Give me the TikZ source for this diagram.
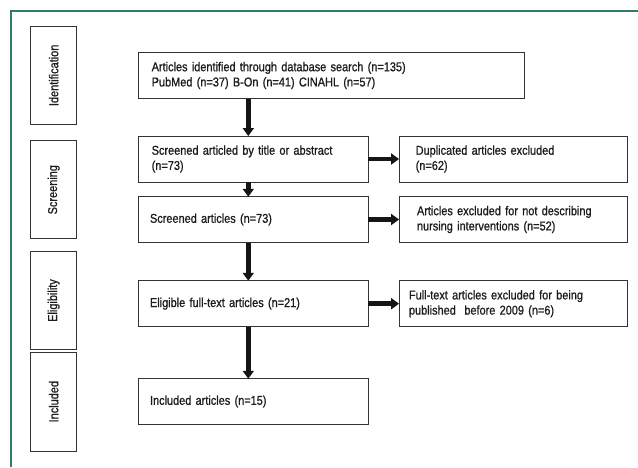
\documentclass[tikz,border=0pt]{standalone}
\usepackage{fontspec}
\setmainfont{Liberation Sans}[FakeStretch=0.855,FakeBold=0.9]
\usetikzlibrary{arrows.meta}
\definecolor{frameteal}{HTML}{2E7B68}
\definecolor{boxline}{HTML}{333333}
\definecolor{txt}{HTML}{1C1C1C}
\definecolor{arr}{HTML}{151515}
\tikzset{
  mainbox/.style={draw=boxline, line width=0.9pt, rectangle, align=left,
    font=\fontsize{12.8}{15.2}\selectfont, text=txt, inner ysep=0pt},
  stagebox/.style={draw=boxline, line width=0.9pt, rectangle, rotate=90,
    minimum height=46pt, font=\fontsize{12.8}{14}\selectfont, text=txt, inner sep=0pt},
  bigarrow/.style={draw=arr, fill=arr, line width=4.8pt,
    -{Triangle[length=8pt,width=11pt]}, shorten >=-0.5pt},
  frameline/.style={draw=frameteal, line width=1.3pt}
}
\begin{document}
\begin{tikzpicture}[x=1pt,y=-1pt]
\useasboundingbox (0,0) rectangle (638,467);
\coordinate (fa) at (11,467);
\coordinate (fb) at (11,11);
\coordinate (fc) at (638.5,11);
\draw[frameline] (fa) -- (fb) -- (fc);

% stage boxes
\node[stagebox, minimum width=98.7pt] (sid) at (53.7,75.35) {Identification};
\node[stagebox, minimum width=98pt] (sscr) at (53.7,189.7) {Screening};
\node[stagebox, minimum width=97.6pt] (selig) at (53.7,300.5) {Eligibility};
\node[stagebox, minimum width=98.7pt] (sinc) at (53.7,401.65) {Included};

% main boxes
\node[mainbox, inner xsep=13pt, text width=360pt, minimum height=46.4pt] (id) at (331.7,75.5)
  {Articles identified through database search (n=135)\\PubMed (n=37) B-On (n=41) CINAHL (n=57)};
\node[mainbox, inner xsep=13pt, text width=203.3pt, minimum height=46pt] (scr1) at (253.35,159)
  {Screened articled by title or abstract\\(n=73)};
\node[mainbox, inner xsep=16.7pt, text width=194.9pt, minimum height=46pt] (dup) at (513.15,159)
  {Duplicated articles excluded\\(n=62)};
\node[mainbox, inner xsep=11.3pt, text width=206.7pt, minimum height=45.6pt] (scr2) at (253.35,219.5)
  {Screened articles (n=73)};
\node[mainbox, inner xsep=18pt, text width=192.3pt, minimum height=45.6pt] (excl) at (513.15,219.5)
  {Articles excluded for not describing\\nursing interventions (n=52)};
\node[mainbox, inner xsep=11.3pt, text width=206.7pt, minimum height=46pt] (elig) at (253.35,303.7)
  {Eligible full-text articles (n=21)};
\node[mainbox, inner xsep=10pt, text width=208.3pt, minimum height=46pt] (ft) at (513.15,303.7)
  {Full-text articles excluded for being\\published\ \ before 2009 (n=6)};
\node[mainbox, inner xsep=11.3pt, text width=206.7pt, minimum height=45.6pt] (incl) at (253.35,401.5)
  {Included articles (n=15)};

% arrows
\coordinate (ax) at (248.3,0);
\draw[bigarrow] (id.south -| ax) -- (scr1.north -| ax);
\draw[bigarrow] (scr1.south -| ax) -- (scr2.north -| ax);
\draw[bigarrow] (scr2.south -| ax) -- (elig.north -| ax);
\draw[bigarrow] (elig.south -| ax) -- (incl.north -| ax);
\draw[bigarrow] (scr1.east) -- (dup.west);
\draw[bigarrow] (scr2.east) -- (excl.west);
\draw[bigarrow] (elig.east) -- (ft.west);
\end{tikzpicture}
\end{document}
